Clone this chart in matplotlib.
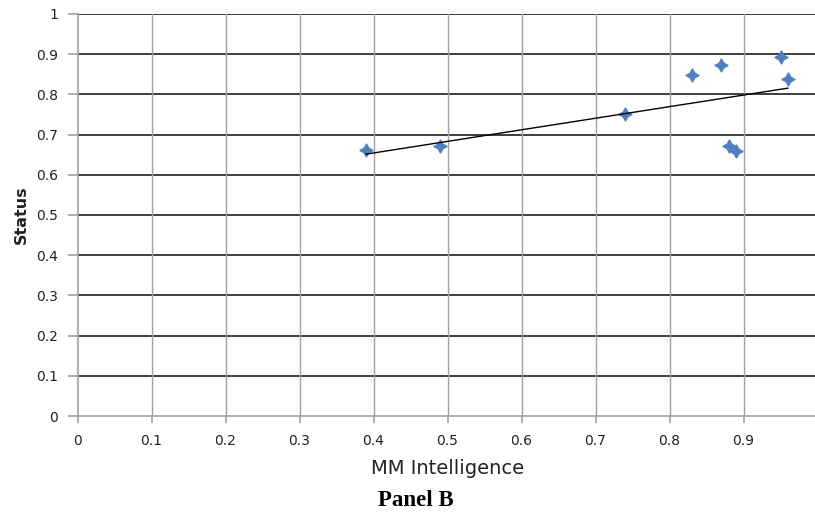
"""Scatter of MM Intelligence vs Status with linear trend line (Panel B)."""

import numpy as np
import matplotlib
matplotlib.use('Agg')
import matplotlib.pyplot as plt

# Data
mm_intelligence = [0.39, 0.49, 0.74, 0.83, 0.87, 0.88, 0.89, 0.95, 0.96]
status = [0.662, 0.672, 0.750, 0.848, 0.874, 0.672, 0.660, 0.892, 0.838]

x_ticks = [0, 0.1, 0.2, 0.3, 0.4, 0.5, 0.6, 0.7, 0.8, 0.9, 1]
x_tick_labels = ['0', '0.1', '0.2', '0.3', '0.4', '0.5', '0.6', '0.7', '0.8', '0.9', '1']
y_ticks = [0, 0.1, 0.2, 0.3, 0.4, 0.5, 0.6, 0.7, 0.8, 0.9, 1]
y_tick_labels = ['0', '0.1', '0.2', '0.3', '0.4', '0.5', '0.6', '0.7', '0.8', '0.9', '1']

MARKER_COLOR = '#4F81BD'
TEXT_COLOR = '#222222'

fig = plt.figure(figsize=(8.15, 5.16), dpi=100)
# axes run slightly past the right edge, like the cropped original
ax = fig.add_axes([77.5 / 815, 100 / 516, 740 / 815, 402 / 516])

ax.set_xlim(0, 1)
ax.set_ylim(0, 1)

# gridlines: dark horizontals, grey verticals
for yv in y_ticks[1:]:
    ax.axhline(yv, color='#1e1e1e', linewidth=1.2, zorder=1)
for xv in x_ticks[1:]:
    ax.axvline(xv, color='#a0a0a0', linewidth=1.0, zorder=1)

# points
ax.plot(mm_intelligence, status, linestyle='none', marker=(4, 1, 0),
        markersize=9.5, color=MARKER_COLOR, markeredgecolor=MARKER_COLOR,
        zorder=3, clip_on=False)

# linear trend line across the data range
x_arr = np.array(mm_intelligence)
slope, intercept = np.polyfit(x_arr, np.array(status), 1)
x_line = np.array([x_arr.min(), x_arr.max()])
ax.plot(x_line, slope * x_line + intercept, color='black', linewidth=1.0, zorder=4)

# spines
for side in ['top', 'right']:
    ax.spines[side].set_visible(False)
ax.spines['left'].set_color('#a0a0a0')
ax.spines['bottom'].set_color('#a0a0a0')
ax.spines['left'].set_linewidth(1.2)
ax.spines['bottom'].set_linewidth(1.2)

ax.set_xticks(x_ticks)
ax.set_xticklabels(x_tick_labels)
ax.set_yticks(y_ticks)
ax.set_yticklabels(y_tick_labels)
ax.tick_params(axis='both', colors='#a0a0a0', labelcolor=TEXT_COLOR,
               labelsize=10, width=1.2)
ax.tick_params(axis='y', length=7, pad=7)
ax.tick_params(axis='x', length=5, pad=8)
for lbl in ax.get_xticklabels():
    lbl.set_clip_on(False)

ax.set_xlabel('MM Intelligence', fontsize=14, color=TEXT_COLOR, labelpad=8)
ax.set_ylabel('Status', fontsize=11.5, fontweight='bold', color=TEXT_COLOR, labelpad=5)

fig.text(416 / 815, 1 - 501 / 516, 'Panel B', ha='center', va='center',
         fontsize=16.5, fontweight='bold', family='Liberation Serif', color='black')

fig.savefig('out.png', dpi=100)
